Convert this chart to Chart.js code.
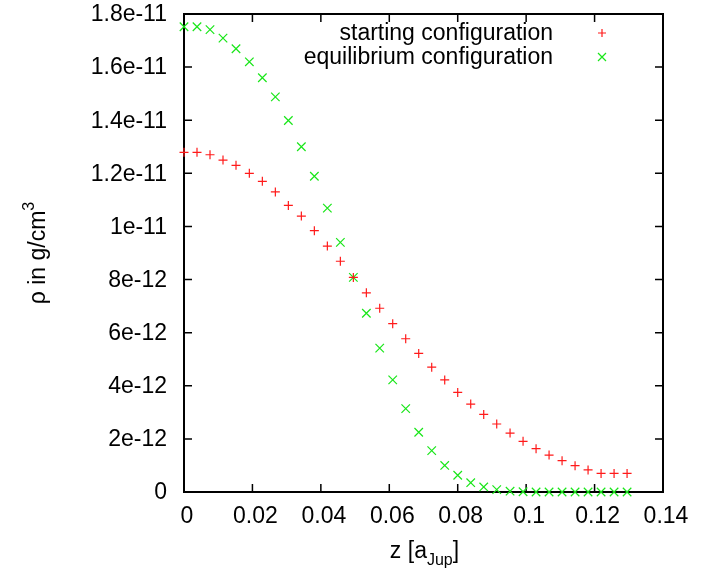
<!DOCTYPE html>
<html lang="en">
<head>
  <meta charset="UTF-8">
  <title>Density profile</title>
  <style>
    html, body { margin: 0; padding: 0; background: #fff; }
    #chartContainer { width: 718px; height: 572px; }
  </style>
</head>
<body>
  <div id="chartContainer">
    <canvas id="densityChart" width="718" height="572"></canvas>
  </div>

  <script src="https://cdn.jsdelivr.net/npm/chart.js"></script>
  <script>
    // z in units of a_Jup
    const zValues = [
      0, 0.0038, 0.0076, 0.0114, 0.0152, 0.0191, 0.0229, 0.0267, 0.0305, 0.0343,
      0.0381, 0.0419, 0.0457, 0.0495, 0.0533, 0.0572, 0.0610, 0.0648, 0.0686, 0.0724,
      0.0762, 0.0800, 0.0838, 0.0876, 0.0914, 0.0953, 0.0991, 0.1029, 0.1067, 0.1105,
      0.1143, 0.1181, 0.1219, 0.1257, 0.1295
    ];
    // density in g/cm^3
    const startingRho = [
      12.79e-12, 12.79e-12, 12.70e-12, 12.50e-12, 12.30e-12, 12.00e-12, 11.70e-12, 11.30e-12, 10.79e-12, 10.39e-12,
      9.84e-12, 9.26e-12, 8.69e-12, 8.08e-12, 7.50e-12, 6.92e-12, 6.34e-12, 5.77e-12, 5.22e-12, 4.70e-12,
      4.22e-12, 3.75e-12, 3.31e-12, 2.92e-12, 2.56e-12, 2.22e-12, 1.91e-12, 1.63e-12, 1.39e-12, 1.18e-12,
      0.99e-12, 0.83e-12, 0.70e-12, 0.70e-12, 0.70e-12
    ];
    const equilibriumRho = [
      17.52e-12, 17.52e-12, 17.41e-12, 17.09e-12, 16.69e-12, 16.20e-12, 15.60e-12, 14.88e-12, 13.99e-12, 13.00e-12,
      11.89e-12, 10.69e-12, 9.40e-12, 8.08e-12, 6.73e-12, 5.42e-12, 4.22e-12, 3.14e-12, 2.25e-12, 1.56e-12,
      1.00e-12, 0.63e-12, 0.35e-12, 0.19e-12, 0.09e-12, 0.03e-12, 0.01e-12, 0, 0, 0,
      0, 0, 0, 0, 0
    ];
    const seriesNames = ['starting configuration', 'equilibrium configuration'];

    const xTickValues = [0, 0.02, 0.04, 0.06, 0.08, 0.1, 0.12, 0.14];
    const xTickLabels = ['0', '0.02', '0.04', '0.06', '0.08', '0.1', '0.12', '0.14'];
    const yTickValues = [0, 2e-12, 4e-12, 6e-12, 8e-12, 1e-11, 1.2e-11, 1.4e-11, 1.6e-11, 1.8e-11];
    const yTickLabels = ['0', '2e-12', '4e-12', '6e-12', '8e-12', '1e-11', '1.2e-11', '1.4e-11', '1.6e-11', '1.8e-11'];

    const FONT = "'Liberation Sans', Arial, Helvetica, sans-serif";
    const FONT_SIZE = 23;
    const RED = '#ff1a1a';
    const GREEN = '#19e619';

    Chart.defaults.font.family = FONT;
    Chart.defaults.font.size = FONT_SIZE;
    Chart.defaults.color = '#000';

    function drawMarker(ctx, style, x, y, r) {
      ctx.beginPath();
      if (style === 'cross') {
        ctx.moveTo(x - r, y); ctx.lineTo(x + r, y);
        ctx.moveTo(x, y - r); ctx.lineTo(x, y + r);
      } else {
        ctx.moveTo(x - r, y - r); ctx.lineTo(x + r, y + r);
        ctx.moveTo(x - r, y + r); ctx.lineTo(x + r, y - r);
      }
      ctx.stroke();
    }

    // text with a sub/superscript part, parts = [[text, size, dy], ...]
    function drawRichText(ctx, parts, cx, baseline) {
      let total = 0;
      parts.forEach(p => { ctx.font = p[1] + 'px ' + FONT; total += ctx.measureText(p[0]).width; });
      let x = cx - total / 2;
      ctx.textAlign = 'left';
      ctx.textBaseline = 'alphabetic';
      parts.forEach(p => {
        ctx.font = p[1] + 'px ' + FONT;
        ctx.fillText(p[0], x, baseline + p[2]);
        x += ctx.measureText(p[0]).width;
      });
    }

    // gnuplot-like box: frame, inward mirrored ticks, titles and key
    const gnuplotFrame = {
      id: 'gnuplotFrame',
      beforeDatasetsDraw(chart) {
        const { ctx, chartArea: a, scales } = chart;
        const tl = 8;
        ctx.save();
        ctx.strokeStyle = '#000';
        ctx.lineWidth = 1.5;
        ctx.beginPath();
        xTickValues.forEach(v => {
          const px = scales.x.getPixelForValue(v);
          ctx.moveTo(px, a.bottom); ctx.lineTo(px, a.bottom - tl);
          ctx.moveTo(px, a.top); ctx.lineTo(px, a.top + tl);
        });
        yTickValues.forEach(v => {
          const py = scales.y.getPixelForValue(v);
          ctx.moveTo(a.left, py); ctx.lineTo(a.left + tl, py);
          ctx.moveTo(a.right, py); ctx.lineTo(a.right - tl, py);
        });
        ctx.stroke();
        ctx.lineWidth = 2;
        ctx.strokeRect(a.left, a.top, a.right - a.left, a.bottom - a.top);
        ctx.restore();
      },
      afterDraw(chart) {
        const { ctx, chartArea: a } = chart;
        ctx.save();
        ctx.fillStyle = '#000';

        // x title
        drawRichText(ctx, [['z [a', FONT_SIZE, 0], ['Jup', 16, 7], [']', FONT_SIZE, 0]], (a.left + a.right) / 2 + 1, 558);

        // y title, rotated
        ctx.save();
        ctx.translate(45, (a.top + a.bottom) / 2);
        ctx.rotate(-Math.PI / 2);
        drawRichText(ctx, [['\u03c1 in g/cm', FONT_SIZE, 0], ['3', 16, -11]], 0, 0);
        ctx.restore();

        // key
        ctx.font = FONT_SIZE + 'px ' + FONT;
        ctx.textAlign = 'right';
        ctx.textBaseline = 'middle';
        ctx.fillText(seriesNames[0], 553, 34);
        ctx.fillText(seriesNames[1], 553, 58);
        ctx.lineWidth = 1.2;
        ctx.strokeStyle = RED;
        drawMarker(ctx, 'cross', 602, 33, 4);
        ctx.strokeStyle = GREEN;
        drawMarker(ctx, 'crossRot', 602, 57, 4);
        ctx.restore();
      }
    };

    const ctx = document.getElementById('densityChart').getContext('2d');
    const densityChart = new Chart(ctx, {
      type: 'scatter',
      data: {
        datasets: [
          {
            label: seriesNames[0],
            data: zValues.map((z, i) => ({ x: z, y: startingRho[i] })),
            pointStyle: 'cross',
            pointRadius: 4.5,
            borderColor: RED,
            backgroundColor: RED,
            borderWidth: 1.2,
            clip: false
          },
          {
            label: seriesNames[1],
            data: zValues.map((z, i) => ({ x: z, y: equilibriumRho[i] })),
            pointStyle: 'crossRot',
            pointRadius: 6,
            borderColor: GREEN,
            backgroundColor: GREEN,
            borderWidth: 1.2,
            clip: false
          }
        ]
      },
      options: {
        responsive: false,
        animation: false,
        events: [],
        layout: { padding: { left: 0, right: 55, top: 14, bottom: 0 } },
        plugins: {
          legend: { display: false },
          tooltip: { enabled: false }
        },
        scales: {
          x: {
            type: 'linear',
            min: 0,
            max: 0.14,
            grid: { display: false, drawTicks: false },
            border: { display: false },
            afterBuildTicks: s => { s.ticks = xTickValues.map(v => ({ value: v })); },
            afterFit: s => {
              s.height = 80;
              s.paddingLeft = 0; s.paddingRight = 0;
            },
            ticks: {
              padding: 11,
              labelOffset: 3,
              maxRotation: 0,
              autoSkip: false,
              callback: (v, i) => xTickLabels[i]
            }
          },
          y: {
            type: 'linear',
            min: 0,
            max: 1.8e-11,
            grid: { display: false, drawTicks: false },
            border: { display: false },
            afterBuildTicks: s => { s.ticks = yTickValues.map(v => ({ value: v })); },
            afterFit: s => {
              s.width = 184;
              s.paddingTop = 0; s.paddingBottom = 0;
            },
            ticks: {
              padding: 17,
              labelOffset: 1,
              autoSkip: false,
              callback: (v, i) => yTickLabels[i]
            }
          }
        }
      },
      plugins: [gnuplotFrame]
    });
  </script>
</body>
</html>
